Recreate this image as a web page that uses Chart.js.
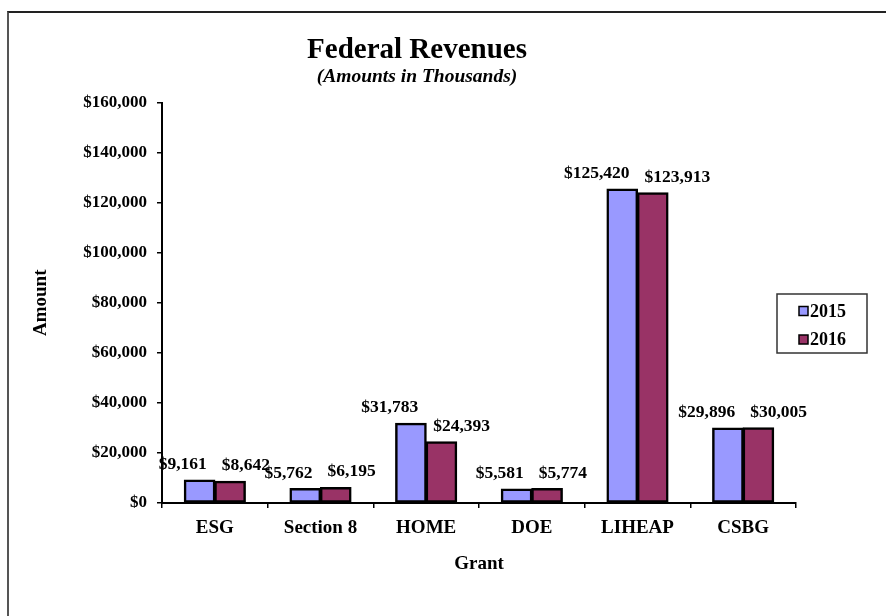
<!DOCTYPE html>
<html>
<head>
<meta charset="utf-8">
<script src="https://cdn.jsdelivr.net/npm/chart.js@4.4.0/dist/chart.umd.min.js"></script>
<style>
    body { margin: 0; background: #fff; }
    #marco { position: absolute; left: 7px; top: 11px; right: 0; bottom: 0; border-top: 2px solid #222; border-left: 2px solid #555; }
    #contenedor { position: absolute; left: 0; top: 0; width: 886px; height: 616px; }
</style>
</head>
<body>
<div id="marco"></div>
<div id="contenedor"><canvas id="graficoIngresos"></canvas></div>
<script>
const grants = ['ESG', 'Section 8', 'HOME', 'DOE', 'LIHEAP', 'CSBG'];
const years = ['2015', '2016'];
const values2015 = [9161, 5762, 31783, 5581, 125420, 29896];
const values2016 = [8642, 6195, 24393, 5774, 123913, 30005];
const yMin = 0;
const yMax = 160000;
const yStep = 20000;

const serif = '"Liberation Serif", "Times New Roman", serif';
const money = v => '$' + Number(v).toLocaleString('en-US');

// etiquetas encima de cada barra (2015 a la izquierda, 2016 a la derecha)
const etiquetas = {
    id: 'etiquetas',
    afterDatasetsDraw(chart) {
        const ctx = chart.ctx;
        ctx.save();
        ctx.font = 'bold 17.5px ' + serif;
        ctx.fillStyle = '#000';
        ctx.textBaseline = 'alphabetic';
        chart.data.datasets.forEach((ds, i) => {
            chart.getDatasetMeta(i).data.forEach((bar, j) => {
                const half = bar.width / 2;
                if (i === 0) {
                    ctx.textAlign = 'right';
                    ctx.fillText(money(ds.data[j]), bar.x + half - 8, bar.y - 11);
                } else {
                    ctx.textAlign = 'left';
                    ctx.fillText(money(ds.data[j]), bar.x - half + 7, bar.y - 11);
                }
            });
        });
        ctx.restore();
    }
};

// leyenda con recuadro a la derecha
const leyenda = {
    id: 'leyenda',
    afterDraw(chart) {
        const ctx = chart.ctx;
        const left = 777, top = 294, w = 90, h = 59;
        ctx.save();
        ctx.fillStyle = '#fff';
        ctx.fillRect(left, top, w, h);
        ctx.strokeStyle = '#333';
        ctx.lineWidth = 1.5;
        ctx.strokeRect(left, top, w, h);
        ctx.font = 'bold 18px ' + serif;
        ctx.textBaseline = 'middle';
        ctx.textAlign = 'left';
        chart.data.datasets.forEach((ds, i) => {
            const y = top + 17 + i * 28.5;
            ctx.fillStyle = ds.backgroundColor;
            ctx.fillRect(799, y - 4.5, 9, 9);
            ctx.strokeStyle = '#000';
            ctx.lineWidth = 1.5;
            ctx.strokeRect(799, y - 4.5, 9, 9);
            ctx.fillStyle = '#000';
            ctx.fillText(ds.label, 810, y + 1);
        });
        ctx.restore();
    }
};

document.addEventListener('DOMContentLoaded', function () {
    const ctx = document.getElementById('graficoIngresos').getContext('2d');
    new Chart(ctx, {
        type: 'bar',
        data: {
            labels: grants,
            datasets: [
                {
                    label: years[0],
                    data: values2015,
                    backgroundColor: '#9999FF',
                    borderColor: '#000',
                    borderWidth: 2.5,
                    borderSkipped: false,
                    inflateAmount: 0.6,
                    categoryPercentage: 0.577,
                    barPercentage: 1
                },
                {
                    label: years[1],
                    data: values2016,
                    backgroundColor: '#993366',
                    borderColor: '#000',
                    borderWidth: 2.5,
                    borderSkipped: false,
                    inflateAmount: 0.6,
                    categoryPercentage: 0.577,
                    barPercentage: 1
                }
            ]
        },
        options: {
            responsive: true,
            maintainAspectRatio: false,
            animation: false,
            layout: { padding: { left: 38, right: 90, top: 0, bottom: 0 } },
            plugins: {
                legend: { display: false },
                tooltip: { enabled: false },
                title: {
                    display: true,
                    text: 'Federal Revenues',
                    color: '#000',
                    font: { family: serif, size: 29, weight: 'bold', lineHeight: 1 },
                    padding: { top: 36, bottom: 0 }
                },
                subtitle: {
                    display: true,
                    text: '(Amounts in Thousands)',
                    color: '#000',
                    font: { family: serif, size: 19.5, weight: 'bold', style: 'italic', lineHeight: 1 },
                    padding: { top: 2, bottom: 16 }
                }
            },
            scales: {
                x: {
                    grid: { display: true, drawOnChartArea: false, drawTicks: true, tickLength: 5, color: '#000', lineWidth: 1.5 },
                    border: { display: true, color: '#000', width: 2 },
                    ticks: { color: '#000', padding: 9, font: { family: serif, size: 19, weight: 'bold' } },
                    title: {
                        display: true,
                        text: 'Grant',
                        color: '#000',
                        font: { family: serif, size: 19, weight: 'bold' },
                        padding: { top: 0, bottom: 41 }
                    },
                    afterFit: s => { s.height = 113; }
                },
                y: {
                    min: yMin,
                    max: yMax,
                    grid: { display: true, drawOnChartArea: false, drawTicks: true, tickLength: 5, color: '#000', lineWidth: 1.5 },
                    border: { display: true, color: '#000', width: 2 },
                    ticks: {
                        stepSize: yStep,
                        callback: money,
                        color: '#000',
                        padding: 10,
                        font: { family: serif, size: 17, weight: 'bold' }
                    },
                    title: {
                        display: true,
                        text: 'Amount',
                        color: '#000',
                        font: { family: serif, size: 19, weight: 'bold' },
                        padding: { top: -8, bottom: 0 }
                    },
                    afterFit: s => { s.width = 124; }
                }
            }
        },
        plugins: [etiquetas, leyenda]
    });
});
</script>
</body>
</html>
